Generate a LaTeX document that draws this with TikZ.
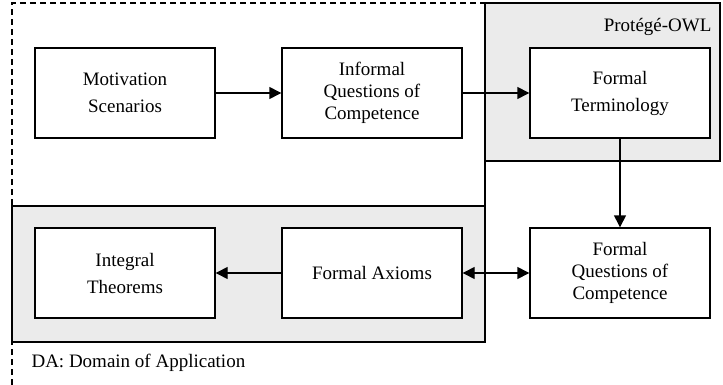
\documentclass[tikz,border=0pt]{standalone}
\usepackage{fontspec}
\setmainfont{Liberation Serif}
\usetikzlibrary{arrows.meta}
\tikzset{
    stage/.style={draw, line width=1.4pt, fill=white, minimum width=180pt, minimum height=90pt, align=center, inner sep=2pt},
    tool/.style={draw, line width=1.4pt, fill=black!8},
    flow/.style={line width=1.4pt, -{Triangle[length=12pt, width=12pt]}},
    twoway/.style={line width=1.4pt, {Triangle[length=12pt, width=12pt]}-{Triangle[length=12pt, width=12pt]}}
}

\begin{document}
\begin{tikzpicture}[x=1pt, y=-1pt, font=\fontsize{19}{22}\selectfont]
  \useasboundingbox (0,0) rectangle (723,385);
  % domain of application
  \draw [line width=1.3pt, dash pattern=on 6pt off 4pt] (12,385) -- (12,3) -- (485,3);
  \filldraw [tool] (485,3) rectangle (720,161);
  \filldraw [tool] (12,206) rectangle (485,342);
  \draw [line width=1.4pt] (485,161) -- (485,206);
  \node [anchor=east] (owl) at (715,27) {Protégé-OWL};
  \node [anchor=west] (da) at (28,363) {DA: Domain of Application};
  % stages
  \node [stage] (motiv) at (125,93) {Motivation\\[5pt]Scenarios};
  \node [stage] (informal) at (372,93) {Informal\\Questions of\\Competence};
  \node [stage] (term) at (620,93) {Formal\\[5pt]Terminology};
  \node [stage] (theorems) at (125,273) {Integral\\[5pt]Theorems};
  \node [stage] (axioms) at (372,273) {Formal Axioms};
  \node [stage] (formalq) at (620,273) {Formal\\Questions of\\Competence};
  % flow
  \draw [flow] (motiv) -- (informal);
  \draw [flow] (informal) -- (term);
  \draw [flow] (term) -- (formalq);
  \draw [twoway] (axioms) -- (formalq);
  \draw [flow] (axioms) -- (theorems);
\end{tikzpicture}
\end{document}
